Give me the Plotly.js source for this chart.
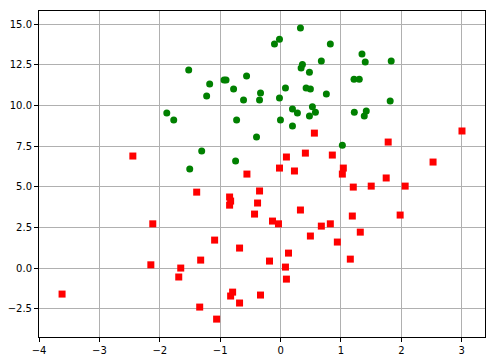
<!DOCTYPE html>
<html>
<head>
<meta charset="utf-8">
<script src="https://cdn.plot.ly/plotly-3.0.1.min.js"></script>
<style>html,body{margin:0;padding:0;background:#fff;}#chart{width:495px;height:361px;}</style>
</head>
<body>
<div id="chart"></div>
<script>
const greenX = [-1.521,-1.174,-1.224,-0.936,-0.903,-0.778,-0.563,-0.613,-1.884,-1.769,-0.728,-1.306,-0.745,-1.504,
  0.329,-0.018,-0.101,0.824,1.348,1.402,1.832,0.675,0.362,0.340,0.478,1.216,1.303,0.081,0.423,0.494,0.758,
  -0.332,-0.348,-0.018,1.815,0.197,0.527,0.279,0.577,0.478,1.221,1.419,1.386,-0.002,0.197,-0.398,1.023];
const greenY = [12.18,11.32,10.58,11.56,11.56,11.01,11.81,10.33,9.53,9.10,9.10,7.20,6.58,6.09,
  14.76,14.08,13.78,13.78,13.16,12.67,12.73,12.73,12.52,12.30,12.05,11.62,11.62,11.07,11.07,11.01,10.70,
  10.76,10.33,10.46,10.27,9.78,9.92,9.53,9.59,9.35,9.59,9.66,9.35,9.10,8.73,8.06,7.56];

const redX = [-2.446,-0.557,0.560,3.004,1.782,0.097,0.411,0.857,2.525,-0.018,0.230,1.039,1.023,1.749,
  -1.389,-0.844,-0.827,-0.844,-2.116,-1.092,-0.679,-1.323,-2.148,-1.653,-1.686,-3.618,-0.794,-0.827,-0.679,-1.339,-1.059,
  -0.348,-0.381,-0.431,-0.134,-0.035,0.329,0.494,0.675,0.824,0.940,1.188,1.320,1.155,0.131,-0.183,0.081,0.097,-0.332,
  1.204,1.501,2.063,1.980];
const redY = [6.89,5.78,8.30,8.43,7.75,6.83,7.07,6.95,6.52,6.15,5.97,6.15,5.78,5.54,
  4.67,4.37,4.12,3.87,2.72,1.72,1.23,0.49,0.20,0.00,-0.55,-1.60,-1.48,-1.72,-2.15,-2.40,-3.14,
  4.74,4.00,3.32,2.89,2.72,3.57,1.97,2.58,2.72,1.60,3.20,2.21,0.55,0.92,0.43,0.06,-0.68,-1.66,
  4.98,5.04,5.04,3.26];

const xTicks = [-4,-3,-2,-1,0,1,2,3];
const yTicks = [-2.5,0,2.5,5,7.5,10,12.5,15];

const axisCommon = {
  showgrid: true, gridcolor: '#b0b0b0', gridwidth: 1,
  zeroline: false, showline: true, mirror: true, linecolor: '#000', linewidth: 1,
  ticks: 'outside', ticklen: 4, tickcolor: '#000', tickwidth: 1,
  tickfont: {family: 'DejaVu Sans', size: 10, color: '#000'}
};

const data = [
  {x: greenX, y: greenY, mode: 'markers', type: 'scatter',
   marker: {symbol: 'circle', size: 7, color: 'green'}, showlegend: false, cliponaxis: true},
  {x: redX, y: redY, mode: 'markers', type: 'scatter',
   marker: {symbol: 'square', size: 7, color: 'red'}, showlegend: false, cliponaxis: true}
];

const layout = {
  width: 495, height: 361,
  margin: {l: 39, r: 10, t: 11, b: 24, pad: 0},
  paper_bgcolor: '#fff', plot_bgcolor: '#fff',
  xaxis: Object.assign({}, axisCommon, {range: [-4.0, 3.385], tickvals: xTicks, ticktext: xTicks.map(v => v < 0 ? '\u2212' + Math.abs(v) : String(v))}),
  yaxis: Object.assign({}, axisCommon, {range: [-4.24, 15.81], tickvals: yTicks, ticktext: yTicks.map(v => (v < 0 ? '\u2212' : '') + Math.abs(v).toFixed(1))})
};

Plotly.newPlot('chart', data, layout, {staticPlot: true, displayModeBar: false});
</script>
</body>
</html>
